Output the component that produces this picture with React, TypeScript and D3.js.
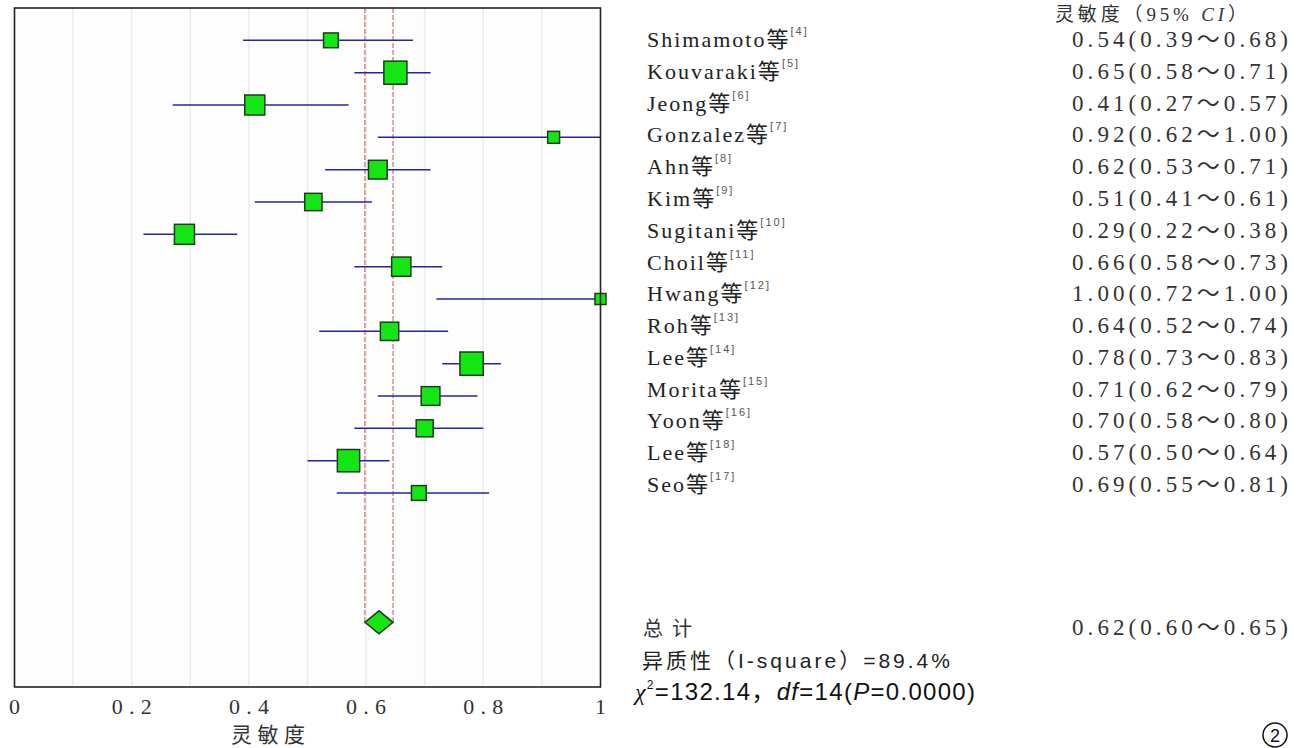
import React from "react";
import * as d3 from "d3";

const studies = ["Shimamoto", "Kouvaraki", "Jeong", "Gonzalez", "Ahn", "Kim", "Sugitani", "Choil", "Hwang", "Roh", "Lee", "Morita", "Yoon", "Lee", "Seo"];
const refs = ["4", "5", "6", "7", "8", "9", "10", "11", "12", "13", "14", "15", "16", "18", "17"];
const sens = [0.54, 0.65, 0.41, 0.92, 0.62, 0.51, 0.29, 0.66, 1.0, 0.64, 0.78, 0.71, 0.7, 0.57, 0.69];
const lower = [0.39, 0.58, 0.27, 0.62, 0.53, 0.41, 0.22, 0.58, 0.72, 0.52, 0.73, 0.62, 0.58, 0.5, 0.55];
const upper = [0.68, 0.71, 0.57, 1.0, 0.71, 0.61, 0.38, 0.73, 1.0, 0.74, 0.83, 0.79, 0.8, 0.64, 0.81];
const weights = [4.3, 10.5, 7.9, 2.8, 6.9, 5.9, 7.9, 7.3, 2.4, 6.6, 10.7, 6.9, 5.7, 9.8, 4.3];
const pooled = [0.622];
const pooledLo = [0.598];
const pooledHi = [0.646];
const xTicks = [0, 0.2, 0.4, 0.6, 0.8, 1];
const gridTicks = [0.1, 0.2, 0.3, 0.4, 0.5, 0.6, 0.7, 0.8, 0.9];
const xTickLabels = ["0", "0.2", "0.4", "0.6", "0.8", "1"];

const SERIF = "'Liberation Serif', 'Times New Roman', 'Noto Sans CJK SC', serif";
const SANS = "'Liberation Sans', Arial, 'Noto Sans CJK SC', sans-serif";
const CJK = "'Noto Sans CJK SC', sans-serif";

export default function App() {
  const W = 1300, H = 748;
  const x = d3.scaleLinear().domain([0, 1]).range([14.5, 600.5]);
  const yRow = d3.scaleLinear().domain([-1, 20]).range([8, 687]);
  const yText = d3.scaleLinear().domain([0, 14]).range([47, 492]);
  const size = d3.scaleSqrt().domain([0, 10.7]).range([0, 23.3]);
  const f = d3.format(".2f");
  const fmt = (s: number, l: number, u: number) => `${f(s)}(${f(l)}～${f(u)})`;

  const green = "#14e614";
  const sq = "#1d3a1d";
  const blue = "#2424a8";
  const red = "#c05050";

  const ySum = yRow(18);
  const dh = 11.5;
  const diamond = d3.line()([
    [x(pooledLo[0]), ySum],
    [x(pooled[0]), ySum - dh],
    [x(pooledHi[0]), ySum],
    [x(pooled[0]), ySum + dh],
  ]) + "Z";

  return (
    <svg width={W} height={H} style={{ position: "absolute", left: 0, top: 0, background: "#fff" }}>
      {/* plot area */}
      <rect x={x(0)} y={yRow(-1)} width={x(1) - x(0)} height={yRow(20) - yRow(-1)} fill="#fdfdfd" />
      {gridTicks.map((t) => (
        <line key={"g" + t} x1={x(t)} x2={x(t)} y1={yRow(-1)} y2={yRow(20)} stroke="#ececec" strokeWidth={1.5} />
      ))}
      {/* pooled CI dashed lines */}
      {[pooledLo[0], pooledHi[0]].map((v, i) => (
        <line key={"d" + i} x1={x(v)} x2={x(v)} y1={yRow(-1)} y2={ySum} stroke={red} strokeWidth={1} strokeDasharray="5,2" />
      ))}
      {/* CI lines */}
      {studies.map((s, i) => (
        <line key={"ci" + i} x1={x(lower[i])} x2={x(upper[i])} y1={yRow(i)} y2={yRow(i)} stroke={blue} strokeWidth={1.5} />
      ))}
      {/* squares */}
      {studies.map((s, i) => {
        const sz = size(weights[i]);
        return (
          <rect key={"sq" + i} x={x(sens[i]) - sz / 2} y={yRow(i) - sz / 2} width={sz} height={sz} fill={green} stroke={sq} strokeWidth={1.5} />
        );
      })}
      <path d={diamond} fill={green} stroke={sq} strokeWidth={1.5} />
      <rect x={x(0)} y={yRow(-1)} width={x(1) - x(0)} height={yRow(20) - yRow(-1)} fill="none" stroke="#222" strokeWidth={1.6} />

      {/* x tick labels */}
      {xTicks.map((t, i) => {
        const lbl = xTickLabels[i];
        const wide = lbl.length > 1;
        return (
          <text key={"t" + t} x={wide ? x(t) - 20 : x(t)} y={714} fontFamily={SERIF} fontSize={22} fill="#333"
            textAnchor={wide ? "start" : "middle"} textLength={wide ? 40 : undefined} lengthAdjust="spacing">
            {lbl}
          </text>
        );
      })}
      <text x={231} y={742} fontFamily={CJK} fontSize={21} fill="#333" textLength={74} lengthAdjust="spacing">灵敏度</text>

      {/* header */}
      <text x={1055} y={21} fontFamily={SERIF} fontSize={19} fill="#333" textLength={192} lengthAdjust="spacing">
        <tspan fontFamily={CJK}>灵敏度（</tspan>
        <tspan>95% </tspan>
        <tspan fontStyle="italic">CI</tspan>
        <tspan fontFamily={CJK}>）</tspan>
      </text>

      {/* study names */}
      {studies.map((s, i) => (
        <text key={"n" + i} x={647} y={yText(i)} fontFamily={SERIF} fontSize={22} fill="#222">
          <tspan letterSpacing={2}>{s}</tspan>
          <tspan fontFamily={CJK} fontSize={22}>等</tspan>
          <tspan dx={2} dy={-12} fontFamily={SANS} fontSize={11} fill="#555" letterSpacing={2}>[{refs[i]}]</tspan>
        </text>
      ))}
      {/* values */}
      {studies.map((s, i) => (
        <text key={"v" + i} x={1072} y={yText(i)} fontFamily={SERIF} fontSize={23} fill="#333" textLength={216} lengthAdjust="spacing">
          {fmt(sens[i], lower[i], upper[i])}
        </text>
      ))}

      {/* summary */}
      <text x={643} y={636} fontFamily={CJK} fontSize={20} fill="#333" textLength={49} lengthAdjust="spacing">总计</text>
      <text x={1072} y={635} fontFamily={SERIF} fontSize={23} fill="#333" textLength={216} lengthAdjust="spacing">
        {fmt(pooled[0], pooledLo[0], pooledHi[0])}
      </text>
      <text x={642} y={668} fontFamily={SANS} fontSize={21} fill="#222" textLength={308} lengthAdjust="spacing">
        <tspan fontFamily={CJK}>异质性（</tspan>
        <tspan>I-square</tspan>
        <tspan fontFamily={CJK}>）</tspan>
        <tspan>=89.4%</tspan>
      </text>
      <text x={635} y={700} fontFamily={SANS} fontSize={24} fill="#111" textLength={340} lengthAdjust="spacing">
        <tspan fontFamily={SERIF} fontStyle="italic">χ</tspan>
        <tspan dy={-11} fontSize={12}>2</tspan>
        <tspan dy={11}>=132.14</tspan>
        <tspan fontFamily={CJK}>，</tspan>
        <tspan fontStyle="italic">df</tspan>
        <tspan>=14(</tspan>
        <tspan fontStyle="italic">P</tspan>
        <tspan>=0.0000)</tspan>
      </text>

      {/* panel number */}
      <circle cx={1275} cy={735} r={12} fill="none" stroke="#111" strokeWidth={1.5} />
      <text x={1275} y={741.5} textAnchor="middle" fontFamily={SANS} fontSize={18} fill="#111">2</text>
    </svg>
  );
}
